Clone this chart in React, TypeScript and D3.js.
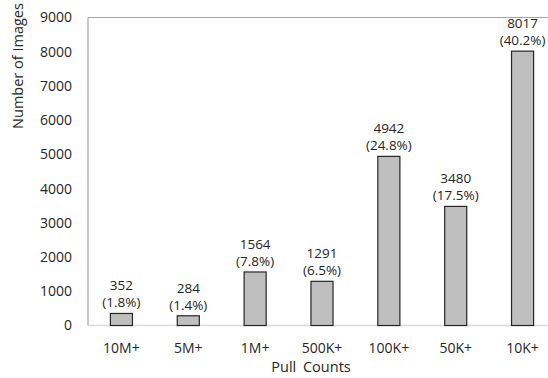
import React from "react";
import * as d3 from "d3";

const categories = ["10M+", "5M+", "1M+", "500K+", "100K+", "50K+", "10K+"];
const counts = [352, 284, 1564, 1291, 4942, 3480, 8017];
const percents = ["1.8%", "1.4%", "7.8%", "6.5%", "24.8%", "17.5%", "40.2%"];
const yTicks = [0, 1000, 2000, 3000, 4000, 5000, 6000, 7000, 8000, 9000];

const W = 548;
const H = 378;
const left = 88;
const right = 556;
const top = 17.5;
const bottom = 325.5;
const font = "'Open Sans', 'Noto Sans', sans-serif";

export default function App() {
  const x = d3.scaleBand<string>().domain(categories).range([left, right]).paddingInner(0.67).paddingOuter(0.335);
  const y = d3.scaleLinear().domain([0, 9000]).range([bottom, top]);
  return (
    <svg width={W} height={H} style={{ position: "absolute", left: 0, top: 0 }} fontFamily={font}>
      <rect x={0} y={0} width={W} height={H} fill="#fff" />
      <line x1={left} x2={W} y1={top} y2={top} stroke="#a6a6a6" strokeWidth={1.2} />
      <line x1={left} x2={left} y1={top} y2={bottom} stroke="#a6a6a6" strokeWidth={1.2} />
      <line x1={left} x2={W} y1={bottom} y2={bottom} stroke="#d9d9d9" strokeWidth={1.5} />
      {yTicks.map((t) => (
        <text key={t} x={72} y={y(t)} dy="0.35em" textAnchor="end" fontSize={14} fill="#262626">
          {t}
        </text>
      ))}
      {categories.map((c, i) => {
        const bx = x(c)!;
        const bw = x.bandwidth();
        const cx = bx + bw / 2;
        return (
          <g key={c}>
            <rect x={bx} y={y(counts[i])} width={bw} height={bottom - y(counts[i])} fill="#bfbfbf" stroke="#262626" strokeWidth={1.2} />
            <text x={cx} y={y(counts[i]) - 23} textAnchor="middle" fontSize={13.5} fill="#262626">
              {counts[i]}
            </text>
            <text x={cx} y={y(counts[i]) - 6} textAnchor="middle" fontSize={13.5} fill="#262626">
              ({percents[i]})
            </text>
            <text x={cx} y={348} dy="0.35em" textAnchor="middle" fontSize={14} fill="#262626">
              {c}
            </text>
          </g>
        );
      })}
      <text x={311} y={367} dy="0.35em" textAnchor="middle" fontSize={14.5} fill="#262626" wordSpacing={3}>
        Pull Counts
      </text>
      <text transform={`translate(18,66) rotate(-90)`} dy="0.35em" textAnchor="middle" fontSize={14.5} fill="#262626">
        Number of Images
      </text>
    </svg>
  );
}
